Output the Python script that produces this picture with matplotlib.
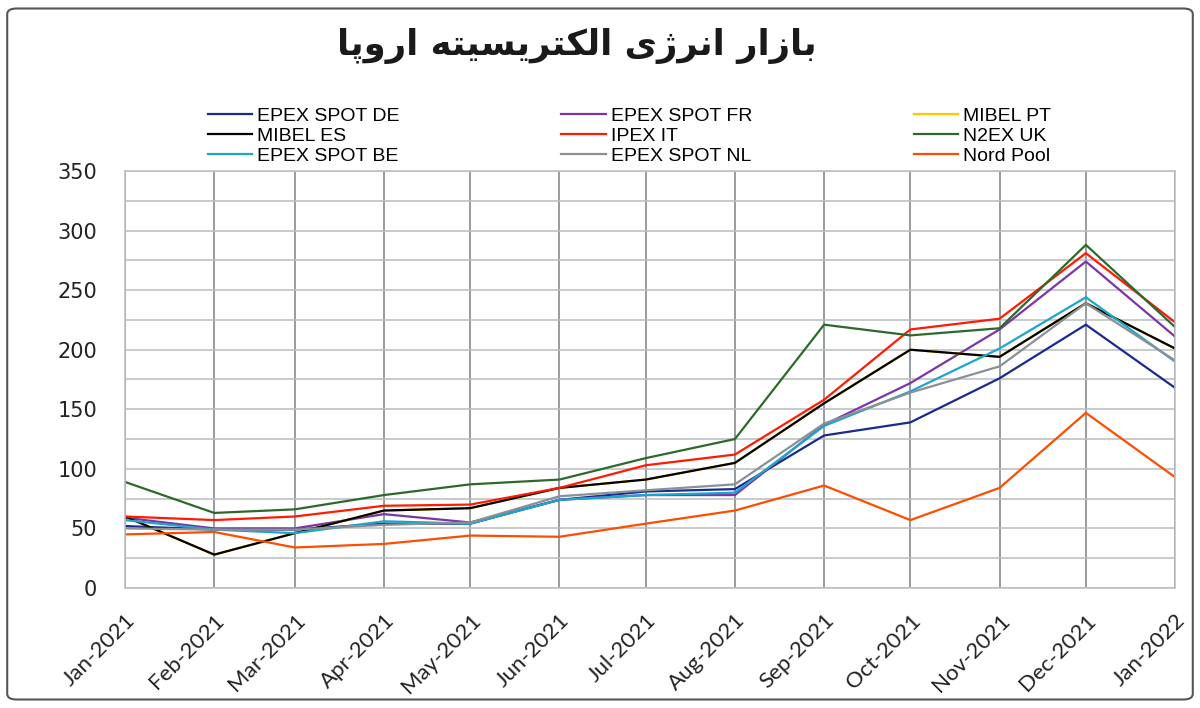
import unicodedata
from datetime import date
import matplotlib
matplotlib.use("Agg")
import matplotlib.pyplot as plt
import matplotlib.dates as mdates
from matplotlib.patches import FancyBboxPatch
from matplotlib.ticker import MultipleLocator

title = "بازار انرژی الکتریسیته اروپا"

months = [date(2021, m, 1) for m in range(1, 13)] + [date(2022, 1, 1)]

epex_de = [52, 49, 49, 54, 54, 74, 81, 83, 128, 139, 176, 221, 168]
epex_fr = [59, 50, 50, 62, 55, 74, 78, 78, 137, 172, 217, 274, 211]
mibel_pt = [60, 28, 46, 65, 67, 84, 91, 105, 155, 200, 194, 239, 201]
mibel_es = [60, 28, 46, 65, 67, 84, 91, 105, 155, 200, 194, 239, 201]
ipex_it = [60, 57, 60, 69, 70, 84, 103, 112, 158, 217, 226, 281, 223]
n2ex_uk = [89, 63, 66, 78, 87, 91, 109, 125, 221, 212, 218, 288, 219]
epex_be = [57, 49, 46, 56, 54, 74, 78, 80, 136, 165, 201, 244, 190]
epex_nl = [50, 49, 49, 53, 55, 77, 82, 87, 138, 164, 186, 239, 191]
nord_pool = [45, 47, 34, 37, 44, 43, 54, 65, 86, 57, 84, 147, 93]

series = [
    ("EPEX SPOT DE", epex_de, "#1b2a8f"),
    ("EPEX SPOT FR", epex_fr, "#7b35a8"),
    ("MIBEL PT", mibel_pt, "#ffc800"),
    ("MIBEL ES", mibel_es, "#000000"),
    ("IPEX IT", ipex_it, "#ff1a00"),
    ("N2EX UK", n2ex_uk, "#2d6a2a"),
    ("EPEX SPOT BE", epex_be, "#1aa7cc"),
    ("EPEX SPOT NL", epex_nl, "#8a9096"),
    ("Nord Pool", nord_pool, "#ff4d00"),
]


# matplotlib has no arabic shaping, so pick presentation forms by hand
RIGHT_ONLY = set("اآأإدذرزژو")


def is_arabic(ch):
    return "\u0600" <= ch <= "\u06ff"


def shape(text):
    out = []
    for i, ch in enumerate(text):
        if not is_arabic(ch):
            out.append(ch)
            continue
        prev = text[i - 1] if i > 0 else " "
        nxt = text[i + 1] if i + 1 < len(text) else " "
        joins_prev = is_arabic(prev) and prev not in RIGHT_ONLY
        joins_next = ch not in RIGHT_ONLY and is_arabic(nxt)
        if joins_prev and joins_next:
            form = "MEDIAL"
        elif joins_prev:
            form = "FINAL"
        elif joins_next:
            form = "INITIAL"
        else:
            form = "ISOLATED"
        try:
            out.append(unicodedata.lookup(unicodedata.name(ch) + " " + form + " FORM"))
        except KeyError:
            out.append(ch)
    return "".join(reversed(out))


fig = plt.figure(figsize=(12, 7.08), dpi=100)
ax = fig.add_axes([0.1042, 0.1695, 0.8750, 0.589])

lines = {}
for name, vals, color in series:
    (ln,) = ax.plot(months, vals, color=color, lw=1.6, label=name)
    lines[name] = ln

ax.set_xlim(months[0], months[-1])
ax.set_ylim(0, 350)
ax.yaxis.set_major_locator(MultipleLocator(50))
ax.yaxis.set_minor_locator(MultipleLocator(25))
ax.set_xticks(months)
ax.xaxis.set_major_formatter(mdates.DateFormatter("%b-%Y"))

ax.grid(axis="y", which="both", color="#b9bdc1", lw=1.1)
ax.grid(axis="x", which="major", color="#8d9399", lw=1.3)
ax.set_axisbelow(True)
for s in ax.spines.values():
    s.set_color("#b9bdc1")
    s.set_linewidth(1.1)

ax.tick_params(axis="both", which="both", length=0)
ax.tick_params(axis="y", pad=20, labelsize=15, labelcolor="#222222")
ax.tick_params(axis="x", pad=16, labelsize=16, labelcolor="#222222")
for lab in ax.get_yticklabels():
    lab.set_family("DejaVu Sans")
for lab in ax.get_xticklabels():
    lab.set_rotation(45)
    lab.set_ha("right")
    lab.set_rotation_mode("anchor")
    lab.set_family("Lato")

order = ["EPEX SPOT DE", "MIBEL ES", "EPEX SPOT BE",
         "EPEX SPOT FR", "IPEX IT", "EPEX SPOT NL",
         "MIBEL PT", "N2EX UK", "Nord Pool"]
fig.legend([lines[n] for n in order], order, ncol=3, loc="upper left",
           bbox_to_anchor=(0.165, 0.862), frameon=False, borderpad=0,
           handlelength=2.3, handletextpad=0.25, columnspacing=8.3,
           labelspacing=0.12, prop={"family": "Liberation Sans", "size": 14})

fig.text(0.481, 0.935, shape(title), ha="center", va="center",
         fontsize=25.5, fontweight="bold", family=["DejaVu Sans"], color="#1a1a1a")

border = FancyBboxPatch((0.006, 0.012), 0.988, 0.976, transform=fig.transFigure,
                        boxstyle="round,pad=0,rounding_size=0.008",
                        fill=False, edgecolor="#555555", lw=1.5)
fig.patches.append(border)

fig.savefig("out.png", dpi=100)
